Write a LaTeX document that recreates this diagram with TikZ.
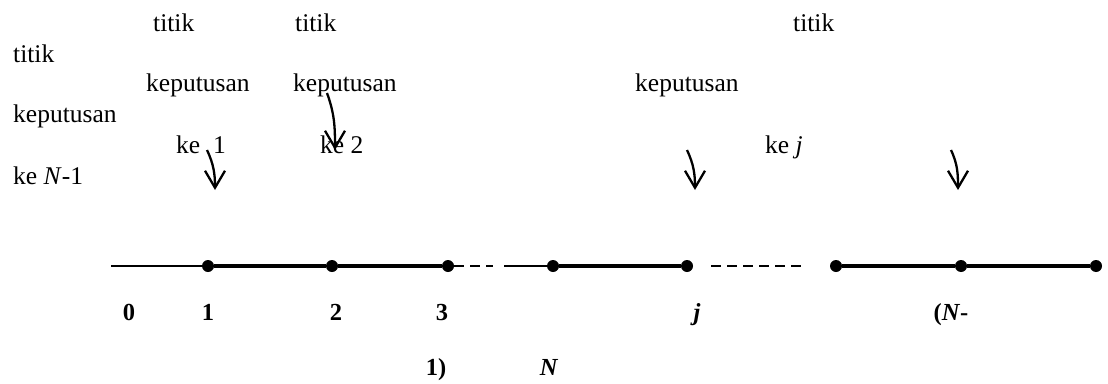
\documentclass[tikz,border=0pt]{standalone}
\usepackage{fontspec}
\setmainfont{Liberation Serif}
\usetikzlibrary{arrows.meta}
\tikzset{
  txt/.style={anchor=base west,inner sep=0pt,font=\fontsize{25.5}{30}\selectfont},
  numlbl/.style={anchor=base,inner sep=0pt,font=\fontsize{24.5}{28}\selectfont\bfseries},
  stage/.style={circle,fill,inner sep=0pt,minimum size=12pt},
  seg/.style={line width=3.2pt},
  thinseg/.style={line width=2.2pt},
  gapline/.style={line width=2.4pt,dash pattern=on 10pt off 6pt},
  pointer/.style={line width=2.3pt,-{Straight Barb[length=17pt,width=20pt]}}
}
\begin{document}
\begin{tikzpicture}[x=1pt,y=-1pt]
\useasboundingbox (0,0) rectangle (1108,383);
% decision point texts
\node[txt] (t1) at (153,31) {titik};
\node[txt] (k1) at (146,91) {keputusan};
\node[txt] (e1) at (176,153) {ke\ \ 1};
\node[txt] (t2) at (295,31) {titik};
\node[txt] (k2) at (293,91) {keputusan};
\node[txt] (e2) at (320,153) {ke 2};
\node[txt] (t3) at (793,31) {titik};
\node[txt] (k3) at (635,91) {keputusan};
\node[txt] (e3) at (765,153) {ke \textit{j}};
\node[txt] (t4) at (13,62) {titik};
\node[txt] (k4) at (13,122) {keputusan};
\node[txt] (e4) at (13,184) {ke \textit{N}-1};
% arrows
\coordinate (a1) at (207,150); \coordinate (b1) at (215,190);
\coordinate (a2) at (327,93);  \coordinate (b2) at (335,150);
\coordinate (a3) at (687,150); \coordinate (b3) at (695,190);
\coordinate (a4) at (951,150); \coordinate (b4) at (958,190);
\draw[pointer] (a1) to[out=-65,in=90] (b1);
\draw[pointer] (a2) to[out=-70,in=90] (b2);
\draw[pointer] (a3) to[out=-65,in=90] (b3);
\draw[pointer] (a4) to[out=-65,in=90] (b4);
% stages
\coordinate (s0) at (111,266);
\node[stage] (d1) at (208,266) {};
\node[stage] (d2) at (332,266) {};
\node[stage] (d3) at (448,266) {};
\coordinate (g1) at (493,266);
\coordinate (h1) at (504,266);
\node[stage] (d4) at (553,266) {};
\node[stage] (d5) at (687,266) {};
\coordinate (g2) at (711,266);
\coordinate (g3) at (803,266);
\node[stage] (d6) at (836,266) {};
\node[stage] (d7) at (961,266) {};
\node[stage] (d8) at (1096,266) {};
\draw[thinseg] (s0) -- (d1);
\draw[seg] (d1) -- (d2);
\draw[seg] (d2) -- (d3);
\draw[gapline] (d3) -- (g1);
\draw[thinseg] (h1) -- (d4);
\draw[seg] (d4) -- (d5);
\draw[gapline] (g2) -- (g3);
\draw[seg] (d6) -- (d7);
\draw[seg] (d7) -- (d8);
% stage numbers
\node[numlbl] (n0) at (129,320) {0};
\node[numlbl] (n1) at (208,320) {1};
\node[numlbl] (n2) at (336,320) {2};
\node[numlbl] (n3) at (442,320) {3};
\node[numlbl] (nj) at (697,320) {\textit{j}};
\node[numlbl] (nm) at (951,320) {(\textit{N}-};
\node[numlbl] (nc) at (436,375) {1)};
\node[numlbl] (nn) at (549,375) {\textit{N}};
\end{tikzpicture}
\end{document}
